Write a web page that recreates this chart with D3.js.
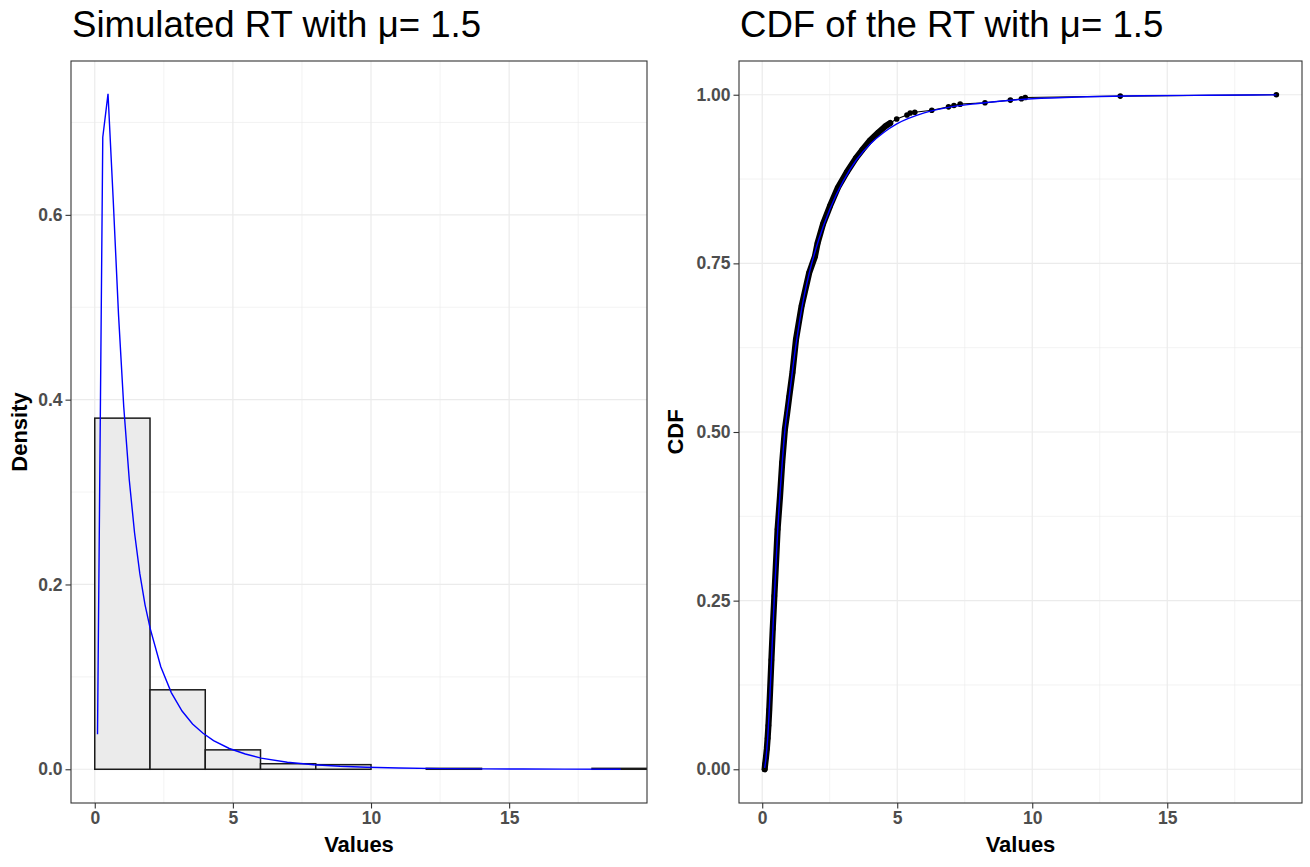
<!DOCTYPE html>
<html><head><meta charset="utf-8">
<script src="https://cdn.jsdelivr.net/npm/d3@7"></script>
<style>
body{margin:0;background:#fff;}
svg{display:block;}
text{font-family:"Liberation Sans",Arial,sans-serif;}
</style></head>
<body><svg id="chart" width="1310" height="867"></svg>
<script>
// ---------- data ----------
const binEdges = [0, 2, 4, 6, 8, 10, 12, 14, 16, 18, 20];
const binDensity = [0.380, 0.086, 0.021, 0.006, 0.005, 0.000, 0.001, 0.000, 0.000, 0.001];

const pdfX = [0.10, 0.29, 0.48, 0.67, 0.86, 1.05, 1.25, 1.44, 1.63, 1.82, 2.01, 2.39, 2.77, 3.16, 3.54, 3.92, 4.30, 4.87, 5.45, 6.02, 6.97, 7.93, 8.88, 9.84, 11.0, 12.5, 14.0, 15.5, 17.0, 19.04];
const pdfY = [0.038, 0.684, 0.731, 0.615, 0.492, 0.392, 0.313, 0.256, 0.212, 0.178, 0.152, 0.111, 0.083, 0.063, 0.049, 0.039, 0.031, 0.0225, 0.0165, 0.0120, 0.0076, 0.0049, 0.0032, 0.0022, 0.0013, 0.00075, 0.00043, 0.00025, 0.00014, 0.00007];

const ecdfX = [0.09, 0.11, 0.14, 0.17, 0.20, 0.23, 0.26, 0.29, 0.34, 0.39, 0.45, 0.51, 0.57, 0.66, 0.74, 0.84, 0.92, 1.00, 1.12, 1.25, 1.46, 1.74, 1.95, 2.05, 2.25, 2.51, 2.80, 3.13, 3.47, 3.70, 3.99, 4.30, 4.55, 4.74, 4.98, 5.36, 5.48, 5.65, 6.28, 6.90, 7.10, 7.33, 8.25, 9.19, 9.60, 9.74, 13.26, 19.04];
const ecdfY = [0.000, 0.008, 0.018, 0.030, 0.046, 0.065, 0.088, 0.115, 0.162, 0.208, 0.257, 0.306, 0.356, 0.405, 0.455, 0.504, 0.527, 0.552, 0.588, 0.637, 0.687, 0.736, 0.760, 0.780, 0.808, 0.835, 0.862, 0.885, 0.906, 0.918, 0.932, 0.944, 0.953, 0.958, 0.964, 0.970, 0.973, 0.974, 0.977, 0.982, 0.984, 0.986, 0.988, 0.992, 0.994, 0.996, 0.998, 1.000];

const cdfX = [0.09, 0.14, 0.20, 0.26, 0.33, 0.45, 0.57, 0.70, 0.84, 1.00, 1.20, 1.45, 1.75, 2.10, 2.50, 3.00, 3.50, 4.00, 4.50, 5.00, 6.00, 7.00, 8.00, 9.00, 10.0, 12.0, 14.0, 16.5, 19.04];
const cdfY = [0.002, 0.017, 0.045, 0.088, 0.150, 0.257, 0.352, 0.432, 0.502, 0.552, 0.615, 0.680, 0.737, 0.786, 0.830, 0.872, 0.904, 0.927, 0.944, 0.957, 0.973, 0.982, 0.987, 0.991, 0.994, 0.997, 0.9985, 0.9992, 0.9998];

const xTicks = [0, 5, 10, 15];
const xMinor = [2.5, 7.5, 12.5, 17.5];
const yTicksL = [0, 0.2, 0.4, 0.6];
const yMinorL = [0.1, 0.3, 0.5, 0.7];
const yTicksR = [0, 0.25, 0.5, 0.75, 1.0];
const yMinorR = [0.125, 0.375, 0.625, 0.875];

const titleL = "Simulated RT with \u03bc= 1.5";
const titleR = "CDF of the RT with \u03bc= 1.5";

// ---------- layout ----------
const svg = d3.select("#chart");
const pTop = 61, pBottom = 803;
const panels = [
  {left: 71, right: 647, ydom: [-0.0365, 0.7665], yt: yTicksL, ym: yMinorL, fmt: d3.format(".1f"), ylab: "Density", title: titleL, ylabX: 19},
  {left: 739, right: 1302, ydom: [-0.05, 1.05], yt: yTicksR, ym: yMinorR, fmt: d3.format(".2f"), ylab: "CDF", title: titleR, ylabX: 675}
];
const xdom = [-0.86, 19.99];

panels.forEach((p, i) => {
  const x = d3.scaleLinear().domain(xdom).range([p.left, p.right]);
  const y = d3.scaleLinear().domain(p.ydom).range([pBottom, pTop]);
  const g = svg.append("g");
  const clipId = "clip" + i;
  svg.append("clipPath").attr("id", clipId).append("rect")
    .attr("x", p.left).attr("y", pTop).attr("width", p.right - p.left).attr("height", pBottom - pTop);

  g.append("rect").attr("x", p.left).attr("y", pTop).attr("width", p.right - p.left).attr("height", pBottom - pTop).attr("fill", "#fff");
  g.selectAll(null).data(xMinor).join("line")
    .attr("x1", d => x(d)).attr("x2", d => x(d)).attr("y1", pTop).attr("y2", pBottom)
    .attr("stroke", "#EBEBEB").attr("stroke-width", 0.6);
  g.selectAll(null).data(p.ym).join("line")
    .attr("y1", d => y(d)).attr("y2", d => y(d)).attr("x1", p.left).attr("x2", p.right)
    .attr("stroke", "#EBEBEB").attr("stroke-width", 0.6);
  g.selectAll(null).data(xTicks).join("line")
    .attr("x1", d => x(d)).attr("x2", d => x(d)).attr("y1", pTop).attr("y2", pBottom)
    .attr("stroke", "#EBEBEB").attr("stroke-width", 1.2);
  g.selectAll(null).data(p.yt).join("line")
    .attr("y1", d => y(d)).attr("y2", d => y(d)).attr("x1", p.left).attr("x2", p.right)
    .attr("stroke", "#EBEBEB").attr("stroke-width", 1.2);

  const plot = g.append("g").attr("clip-path", `url(#${clipId})`);

  if (i === 0) {
    const bins = binDensity.map((d, k) => ({x0: binEdges[k], x1: binEdges[k + 1], v: d}));
    plot.selectAll(null).data(bins).join("rect")
      .attr("x", d => x(d.x0)).attr("width", d => x(d.x1) - x(d.x0))
      .attr("y", d => y(d.v)).attr("height", d => y(0) - y(d.v))
      .attr("fill", "#EBEBEB").attr("stroke", "#1a1a1a").attr("stroke-width", 1.5);
    const pdf = pdfX.map((d, k) => [d, pdfY[k]]);
    plot.append("path").datum(pdf)
      .attr("d", d3.line().x(d => x(d[0])).y(d => y(d[1])))
      .attr("fill", "none").attr("stroke", "#0000FF").attr("stroke-width", 1.4);
  } else {
    const ecdf = ecdfX.map((d, k) => [d, ecdfY[k]]);
    const dense = ecdf.filter(d => d[0] <= 4.8);
    const line = d3.line().x(d => x(d[0])).y(d => y(d[1]));
    plot.append("path").datum(dense).attr("d", line)
      .attr("fill", "none").attr("stroke", "#000").attr("stroke-width", 6.2)
      .attr("stroke-linecap", "round").attr("stroke-linejoin", "round");
    plot.append("path").datum(ecdf).attr("d", line)
      .attr("fill", "none").attr("stroke", "#000").attr("stroke-width", 1.1);
    plot.selectAll(null).data(ecdf).join("circle")
      .attr("cx", d => x(d[0])).attr("cy", d => y(d[1])).attr("r", 2.8).attr("fill", "#000");
    const cdf = cdfX.map((d, k) => [d, cdfY[k]]);
    plot.append("path").datum(cdf)
      .attr("d", d3.line().curve(d3.curveMonotoneX).x(d => x(d[0])).y(d => y(d[1])))
      .attr("fill", "none").attr("stroke", "#0000FF").attr("stroke-width", 1.4);
  }

  g.append("rect").attr("x", p.left).attr("y", pTop).attr("width", p.right - p.left).attr("height", pBottom - pTop)
    .attr("fill", "none").attr("stroke", "#333333").attr("stroke-width", 1.1);

  const ax = g.append("g").attr("transform", `translate(0,${pBottom})`)
    .call(d3.axisBottom(x).tickValues(xTicks).tickSize(5.5).tickPadding(3).tickSizeOuter(0).tickFormat(d3.format("d")));
  const ay = g.append("g").attr("transform", `translate(${p.left},0)`)
    .call(d3.axisLeft(y).tickValues(p.yt).tickSize(5.5).tickPadding(3).tickSizeOuter(0).tickFormat(p.fmt));
  [ax, ay].forEach(a => {
    a.select(".domain").remove();
    a.selectAll(".tick line").attr("stroke", "#333333").attr("stroke-width", 1.1);
    a.selectAll(".tick text").attr("fill", "#4D4D4D").attr("font-size", 17.5).attr("font-weight", "bold")
      .attr("font-family", "Liberation Sans, Arial, sans-serif");
  });

  g.append("text").attr("x", (p.left + p.right) / 2).attr("y", 852)
    .attr("text-anchor", "middle").attr("font-size", 22).attr("font-weight", "bold").attr("fill", "#000")
    .text("Values");
  g.append("text").attr("transform", `translate(${p.ylabX + 8},${(pTop + pBottom) / 2}) rotate(-90)`)
    .attr("text-anchor", "middle").attr("font-size", 22).attr("font-weight", "bold").attr("fill", "#000")
    .text(p.ylab);

  g.append("text").attr("x", p.left + 1).attr("y", 37)
    .attr("font-size", 36.6).attr("fill", "#000").text(p.title);
});
</script></body></html>
